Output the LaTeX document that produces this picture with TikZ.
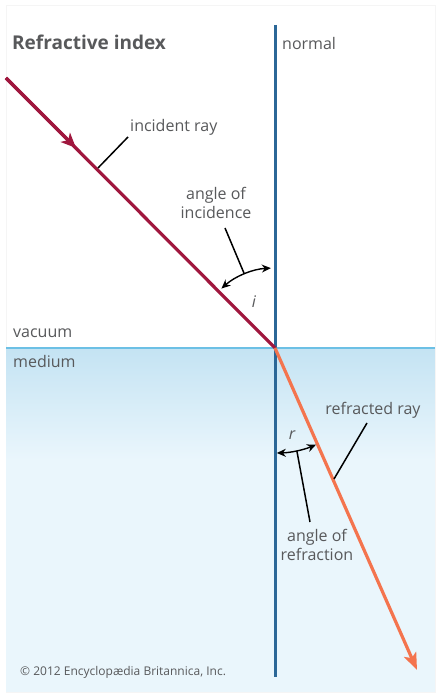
\documentclass[tikz,border=0pt]{standalone}
\usepackage{fontspec}
\setmainfont{Open Sans}
\usetikzlibrary{arrows.meta}
\definecolor{txt}{HTML}{58595B}
\definecolor{incid}{HTML}{A0173E}
\definecolor{refr}{HTML}{F4744E}
\definecolor{normc}{HTML}{2B6797}
\definecolor{surf}{HTML}{6CC0E5}
\definecolor{medtop}{HTML}{C4E3F3}
\definecolor{medbot}{HTML}{EAF6FC}
\begin{document}
\begin{tikzpicture}[x=1pt,y=1pt,
  lbl/.style={text=txt,font=\fontsize{16}{18.5}\selectfont,inner sep=0pt},
  leader/.style={black,line width=1.5pt},
  anglearc/.style={black,line width=1.4pt,{Stealth[length=9pt,width=8pt]}-{Stealth[length=9pt,width=8pt]}},
  ray/.style={line width=3.2pt}]
\useasboundingbox (0,0) rectangle (446,700);
\fill[white] (0,0) rectangle (446,700);
% panel
\draw[black!4,line width=0.8pt] (6,8) rectangle (435,695);
% medium
\fill[medbot] (6.4,8.4) rectangle (434.6,352);
\shade[top color=medtop,bottom color=medbot] (6.4,240) rectangle (434.6,352);
\draw[surf,line width=1.5pt] (6.4,352) -- (434.6,352);
% coordinates
\coordinate (O) at (275,352);
\coordinate (S) at (6,622);
\coordinate (M) at (76,552);
\coordinate (E) at (417,30);
\coordinate (N1) at (275,675);
\coordinate (N2) at (275,23);
% normal
\draw[normc,line width=3pt] (N1) -- (N2);
% incident ray
\draw[incid,ray] (S) -- (O);
\draw[incid,ray,-{Stealth[length=15pt,width=13pt,inset=4pt]}] (S) -- (M);
% refracted ray
\draw[refr,ray,-{Stealth[length=17pt,width=13pt,inset=4pt]}] (O) -- (E);
% angle arcs
\draw[anglearc] ([shift={(132:80)}]O) arc[start angle=132,end angle=93,radius=80];
\draw[anglearc] ([shift={(-89:105)}]O) arc[start angle=-89,end angle=-67,radius=105];
% leaders
\coordinate (iA) at ([shift={(112.5:80)}]O);
\coordinate (rA) at ([shift={(-78:105)}]O);
\coordinate (incL) at (98,532);
\coordinate (refL) at (334,221);
\node[lbl,anchor=west] (tinc) at (130,573) {incident ray};
\node[lbl,align=center] (tai) at (216,497) {angle of\\incidence};
\node[lbl,anchor=center] (tref) at (373,290) {refracted ray};
\node[lbl,align=center] (tar) at (317,155) {angle of\\refraction};
\draw[leader] (incL) -- (128,563);
\draw[leader] (iA) -- (225,472);
\draw[leader] (refL) -- (367,277);
\draw[leader] (rA) -- (310,178);
% other labels
\node[lbl,anchor=west,font=\fontsize{19}{21}\selectfont\bfseries] (title) at (12,658) {Refractive index};
\node[lbl,anchor=west] (tnorm) at (282,656) {normal};
\node[lbl,anchor=west] (tvac) at (13,367) {vacuum};
\node[lbl,anchor=west] (tmed) at (13,338) {medium};
\node[lbl,font=\fontsize{16}{18}\selectfont\itshape] (ti) at (254,398) {i};
\node[lbl,font=\fontsize{16}{18}\selectfont\itshape] (tr) at (292,265) {r};
\node[lbl,anchor=west,font=\fontsize{12}{14}\selectfont] (copy) at (20,28) {© 2012 Encyclopædia Britannica, Inc.};
\end{tikzpicture}
\end{document}
